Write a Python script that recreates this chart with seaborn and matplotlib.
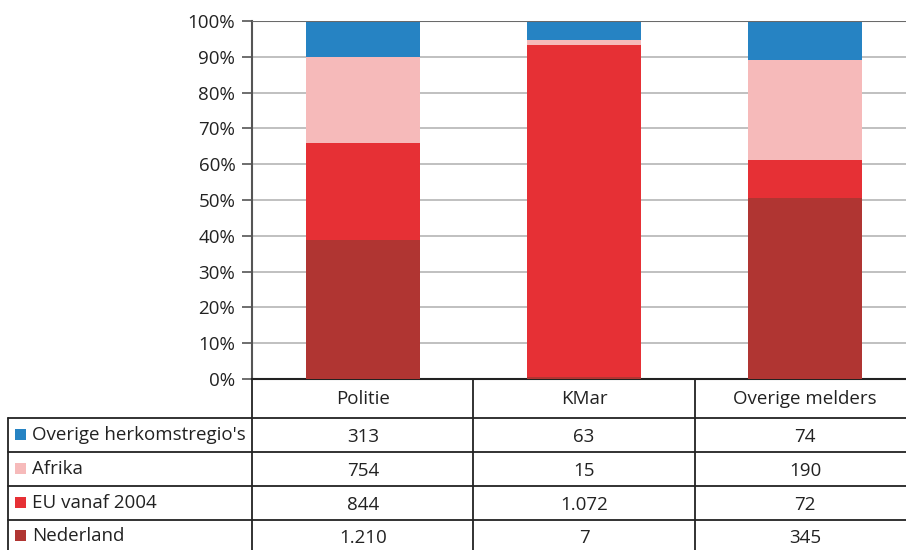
import matplotlib
matplotlib.use("Agg")
import matplotlib.pyplot as plt
import seaborn as sns
import numpy as np
import pandas as pd

# Reporting parties and origin regions (counts)
melders = ["Politie", "KMar", "Overige melders"]
regios = ["Nederland", "EU vanaf 2004", "Afrika", "Overige herkomstregio's"]
nederland = [1210, 7, 345]
eu_vanaf_2004 = [844, 1072, 72]
afrika = [754, 15, 190]
overige_regios = [313, 63, 74]
tabel_labels = [["1.210", "7", "345"], ["844", "1.072", "72"],
                 ["754", "15", "190"], ["313", "63", "74"]]
kleuren = ["#B03532", "#E63035", "#F6BABA", "#2683C3"]

sns.set_theme(style="white")
plt.rcParams["font.family"] = ["Open Sans", "DejaVu Sans"]

counts = np.array([nederland, eu_vanaf_2004, afrika, overige_regios], dtype=float)
shares = counts / counts.sum(axis=0) * 100
cum = np.cumsum(shares, axis=0)

W, H = 906, 550
fig = plt.figure(figsize=(W / 100, H / 100), dpi=100)
x_left, x_right = 252, 906
y_top, y_bot = 21, 379
ax = fig.add_axes([x_left / W, (H - y_bot) / H, (x_right - x_left) / W, (y_bot - y_top) / H])

# stacked bars: draw the cumulative totals from the top layer down
for i in range(len(regios) - 1, -1, -1):
    df = pd.DataFrame({"melder": melders, "waarde": cum[i]})
    sns.barplot(data=df, x="melder", y="waarde", color=kleuren[i], width=0.52,
                saturation=1, ax=ax, zorder=3, linewidth=0, edgecolor="none")

# map pixel layout to data: centres 221 px apart
step = 221.0
c0 = 363.0
ax.set_xlim((x_left - c0) / step, (x_right - c0) / step)
ax.set_ylim(0, 100)
fs = 13.5
ax.set_yticks(np.arange(0, 101, 10))
ax.set_yticklabels([f"{v}%" for v in range(0, 101, 10)], fontsize=fs, color="#222222")
ax.set_xticks([])
ax.set_xlabel("")
ax.set_ylabel("")
ax.grid(axis="y", color="#b5b5b5", linewidth=1.2, zorder=0)
ax.set_axisbelow(True)
for s in ["top", "right"]:
    ax.spines[s].set_visible(False)
ax.spines["left"].set_color("#555555")
ax.spines["left"].set_linewidth(1.5)
ax.spines["bottom"].set_color("#222222")
ax.spines["bottom"].set_linewidth(1.5)
ax.tick_params(axis="y", left=True, length=7, width=1.2, color="#555555", pad=5)
ax.axhline(100, color="#6a6a6a", linewidth=1.5, zorder=4)

# data table below the chart (pixel coordinates)
tax = fig.add_axes([0, 0, 1, (H - y_bot) / H])
tax.set_xlim(0, W)
tax.set_ylim(H, y_bot)
tax.axis("off")

row_lines = [418, 452, 486, 520]
col_lines = [252, 473, 695]
lc = "#222222"
for y in row_lines:
    tax.plot([8, W], [y, y], color=lc, linewidth=1.3)
tax.plot([8, 8], [418, H], color=lc, linewidth=1.3)
for x in col_lines:
    tax.plot([x, x], [y_bot, H], color=lc, linewidth=1.3)

centres = [c0 + step * k for k in range(len(melders))]
for k, m in enumerate(melders):
    tax.text(centres[k], 399, m, ha="center", va="center", fontsize=fs, color="#222222")

row_centres = [536, 503, 469, 435]  # Nederland ... Overige
for i, reg in enumerate(regios):
    yc = row_centres[i]
    tax.add_patch(plt.Rectangle((15, yc - 6), 11, 11, color=kleuren[i], linewidth=0))
    tax.text(32, yc, reg, ha="left", va="center", fontsize=fs, color="#222222")
    for k in range(len(melders)):
        tax.text(centres[k], yc + 2, tabel_labels[i][k], ha="center", va="center",
                 fontsize=fs, color="#222222")

fig.savefig("out.png", dpi=100)
